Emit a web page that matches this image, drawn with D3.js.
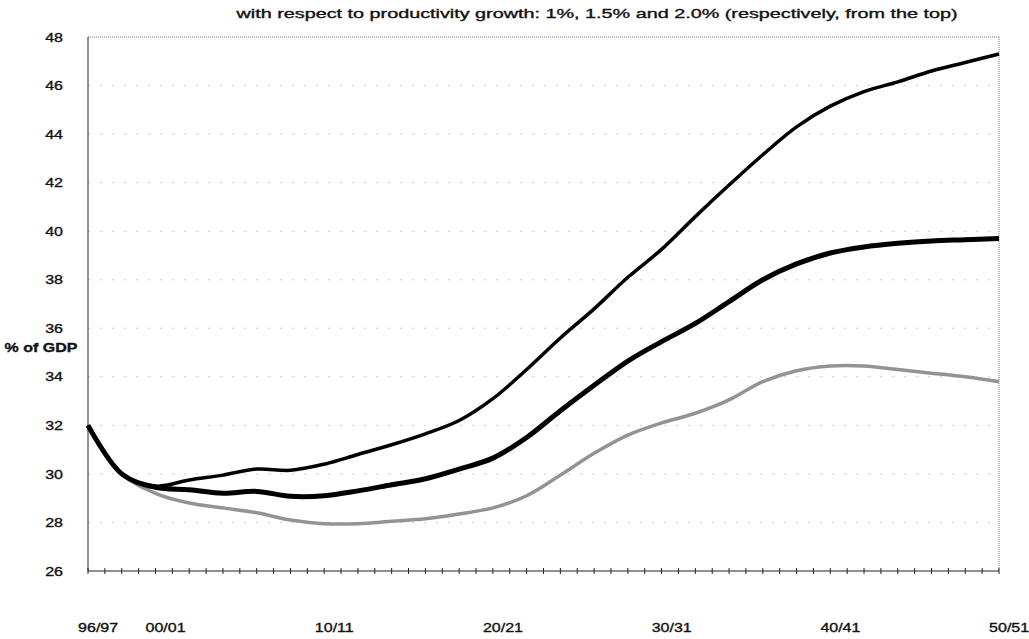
<!DOCTYPE html>
<html><head><meta charset="utf-8">
<script src="https://cdn.jsdelivr.net/npm/d3@7"></script>
<style>
body{margin:0;background:#fff;}
text{font-family:"Liberation Sans",Arial,sans-serif;fill:#111;stroke:#111;stroke-width:0.35px;}
</style></head>
<body><svg id="c" width="1029" height="639"></svg>
<script>
const title = "with respect to productivity growth: 1%, 1.5% and 2.0% (respectively, from the top)";
const yAxisLabel = "% of GDP";
const years = [1996,1998,2000,2002,2004,2006,2008,2010,2012,2014,2016,2018,2020,2022,2024,2026,2028,2030,2032,2034,2036,2038,2040,2042,2044,2046,2048,2050];
const growth1 = [32.0,30.0,29.5,29.75,29.95,30.2,30.15,30.4,30.8,31.2,31.65,32.2,33.1,34.3,35.6,36.8,38.1,39.25,40.6,41.9,43.15,44.3,45.15,45.75,46.15,46.6,46.95,47.3];
const growth15 = [32.0,30.0,29.45,29.35,29.2,29.28,29.08,29.1,29.3,29.55,29.8,30.2,30.65,31.5,32.6,33.65,34.65,35.45,36.2,37.1,38.0,38.65,39.1,39.35,39.5,39.6,39.65,39.7];
const growth2 = [32.0,30.0,29.2,28.8,28.6,28.4,28.1,27.95,27.95,28.05,28.15,28.35,28.6,29.1,29.95,30.85,31.6,32.1,32.5,33.05,33.8,34.25,34.45,34.45,34.3,34.15,34.0,33.8];
const yTicks = [26,28,30,32,34,36,38,40,42,44,46,48];
const xLabelYears = [1996,2000,2010,2020,2030,2040,2050];
const xLabels = ["96/97","00/01","10/11","20/21","30/31","40/41","50/51"];

const svg = d3.select("#c");
const L=88, R=999, T=37, B=571;
const x = d3.scaleLinear().domain([1996,2050]).range([L,R]);
const y = d3.scaleLinear().domain([26,48]).range([B,T]);
const STRETCH = 1.23;
function stretch(sel){ sel.each(function(){ const w=this.getComputedTextLength(); d3.select(this).attr("textLength", w*STRETCH).attr("lengthAdjust","spacingAndGlyphs"); }); }

// gridlines
svg.append("g").selectAll("line").data(yTicks.filter(v=>v>26&&v<48)).join("line")
  .attr("x1",L).attr("x2",R).attr("y1",d=>y(d)).attr("y2",d=>y(d))
  .attr("stroke","#bdbdbd").attr("stroke-width",0.8).attr("stroke-dasharray","2,10");

// top & right border dotted
svg.append("line").attr("x1",L).attr("x2",R).attr("y1",T).attr("y2",T).attr("stroke","#777").attr("stroke-width",1).attr("stroke-dasharray","1,1");
svg.append("line").attr("x1",R).attr("x2",R).attr("y1",T).attr("y2",B).attr("stroke","#777").attr("stroke-width",1).attr("stroke-dasharray","1,1");
// left axis
svg.append("line").attr("x1",L).attr("x2",L).attr("y1",T).attr("y2",B).attr("stroke","#222").attr("stroke-width",1);
// bottom axis
svg.append("line").attr("x1",L).attr("x2",R).attr("y1",B).attr("y2",B).attr("stroke","#222").attr("stroke-width",1);
svg.append("g").selectAll("line").data(d3.range(1996,2051)).join("line")
  .attr("x1",d=>x(d)).attr("x2",d=>x(d)).attr("y1",B-3).attr("y2",B+3)
  .attr("stroke","#222").attr("stroke-width",1);

// y tick labels
svg.append("g").selectAll("text").data(yTicks).join("text")
  .attr("x",63).attr("y",d=>y(d)).attr("dy","0.36em").attr("text-anchor","end")
  .attr("font-size",13).text(d=>d).call(stretch);
svg.append("text").attr("x",41).attr("y",352).attr("text-anchor","middle")
  .attr("font-size",13).attr("font-weight","bold").text(yAxisLabel).call(stretch);

// x labels
svg.append("g").selectAll("text").data(xLabelYears).join("text")
  .attr("x",d=>x(d+0.6)).attr("y",632).attr("text-anchor","middle")
  .attr("font-size",13).text((d,i)=>xLabels[i]).call(stretch);

// title
svg.append("text").attr("x",597).attr("y",18).attr("text-anchor","middle")
  .attr("font-size",13).text(title).attr("textLength",721).attr("lengthAdjust","spacingAndGlyphs");

const line = d3.line().x((d,i)=>x(years[i])).y(d=>y(d)).curve(d3.curveCatmullRom.alpha(0.5));
svg.append("path").datum(growth2).attr("d",line).attr("fill","none").attr("stroke","#939393").attr("stroke-width",3.5).attr("stroke-linejoin","round");
svg.append("path").datum(growth1).attr("d",line).attr("fill","none").attr("stroke","#000").attr("stroke-width",3.5).attr("stroke-linejoin","round");
svg.append("path").datum(growth15).attr("d",line).attr("fill","none").attr("stroke","#000").attr("stroke-width",5).attr("stroke-linejoin","round");
</script></body></html>
